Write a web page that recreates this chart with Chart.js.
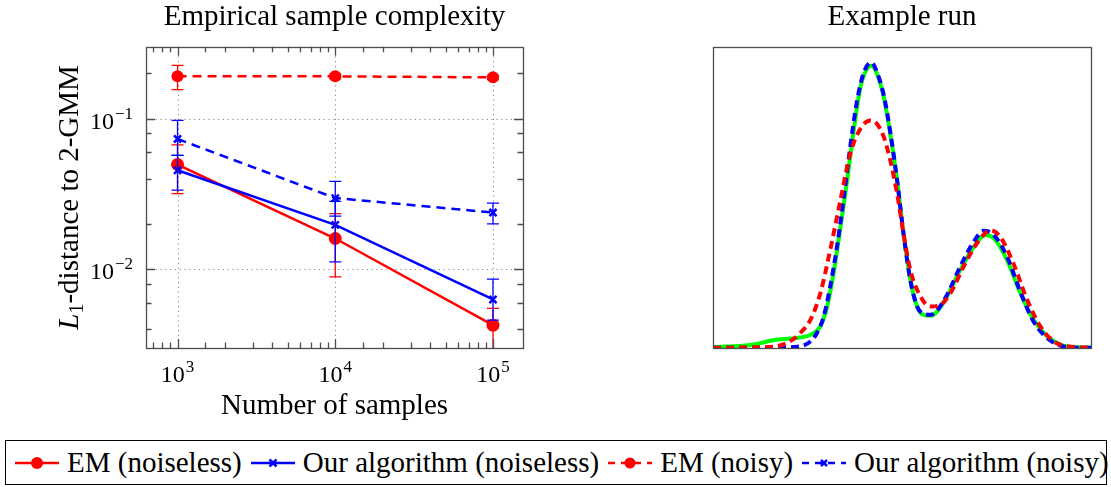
<!DOCTYPE html>
<html>
<head>
<meta charset="utf-8">
<script src="https://cdn.jsdelivr.net/npm/chart.js@4.4.0/dist/chart.umd.min.js"></script>
<style>
  body { margin: 0; background: #fff; width: 1111px; height: 487px; overflow: hidden; position: relative; font-family: "Liberation Serif", serif; }
  #left { position: absolute; left: 0; top: 0; }
  #right { position: absolute; left: 560px; top: 0; }
  #legend { position: absolute; left: 5px; top: 440px; width: 1102px; height: 45px; box-sizing: border-box;
            border: 1.5px solid #000; display: flex; align-items: center; font-size: 29px; line-height: 1; color: #000; white-space: nowrap; }
  #legend svg { margin-left: 8px; margin-right: 7px; flex: none; }
  #legend span { flex: none; }
</style>
</head>
<body>
<canvas id="left" width="560" height="430"></canvas>
<canvas id="right" width="551" height="430"></canvas>
<div id="legend">
  <svg width="46" height="20"><line x1="1" y1="10" x2="45" y2="10" stroke="#f00" stroke-width="2.5"/><circle cx="23" cy="10" r="6" fill="#f00"/></svg><span>EM (noiseless)</span>
  <svg width="46" height="20"><line x1="1" y1="10" x2="45" y2="10" stroke="#00f" stroke-width="2.5"/><path d="M19.5 6.5 L26.5 13.5 M26.5 6.5 L19.5 13.5" stroke="#00f" stroke-width="2.5"/></svg><span>Our algorithm (noiseless)</span>
  <svg width="46" height="20"><line x1="1" y1="10" x2="45" y2="10" stroke="#f00" stroke-width="2.5" stroke-dasharray="7 6"/><circle cx="23" cy="10" r="5.5" fill="#f00"/></svg><span>EM (noisy)</span>
  <svg width="46" height="20"><line x1="1" y1="10" x2="45" y2="10" stroke="#00f" stroke-width="2.5" stroke-dasharray="7 6"/><path d="M20 7 L26 13 M26 7 L20 13" stroke="#00f" stroke-width="2.5"/></svg><span>Our algorithm (noisy)</span>
</div>
<script>
// ---- left panel: L1 distance vs number of samples ----
const samples = [1e3, 1e4, 1e5];

const emNoiseless   = [0.0496, 0.0160, 0.00425];
const emNoiselessLo = [0.0318, 0.0089, 0.0025];
const emNoiselessHi = [0.067, 0.0234, 0.0055];

const oursNoiseless   = [0.0454, 0.0197, 0.0063];
const oursNoiselessLo = [0.0335, 0.0112, 0.0046];
const oursNoiselessHi = [0.057, 0.0282, 0.0086];

const emNoisy   = [0.191, 0.191, 0.188];
const emNoisyLo = [0.156, 0.184, 0.182];
const emNoisyHi = [0.226, 0.198, 0.194];

const oursNoisy   = [0.0733, 0.0297, 0.0238];
const oursNoisyLo = [0.057, 0.0225, 0.0200];
const oursNoisyHi = [0.0975, 0.0383, 0.0275];

const xMajor = [1e3, 1e4, 1e5];
const xExp = ['3', '4', '5'];
const yMajor = [0.1, 0.01];
const yExp = ['\u22121', '\u22122'];

// ---- right panel: example run densities ----
const trueX = [0, 9.9, 16.9, 23.1, 25.8, 28.4, 30.2, 31.9, 33.7, 35.5, 37.2, 39.0, 40.7, 41.9, 43.4, 45.2, 46.9, 48.7, 50.4, 52.2, 54.0, 55.7, 57.5, 59.3, 61.9, 65.4, 69.0, 72.1, 74.3, 77.8, 81.3, 84.8, 88.4, 91.9, 95.4, 100];
const trueY = [0.003, 0.01, 0.028, 0.035, 0.044, 0.072, 0.138, 0.248, 0.40, 0.557, 0.72, 0.865, 0.926, 0.937, 0.91, 0.832, 0.711, 0.557, 0.38, 0.226, 0.138, 0.11, 0.107, 0.121, 0.171, 0.259, 0.336, 0.375, 0.364, 0.292, 0.182, 0.094, 0.039, 0.011, 0.003, 0.001];

const oursRunX = [0, 14.3, 23.1, 25.8, 27.5, 29.3, 31.0, 32.8, 34.6, 36.3, 38.1, 39.9, 41.9, 43.4, 45.2, 46.9, 48.7, 50.4, 52.2, 54.0, 55.7, 57.5, 59.3, 61.9, 65.4, 69.0, 71.6, 74.3, 77.8, 81.3, 84.8, 88.4, 91.9, 95.4, 100];
const oursRunY = [0.001, 0.001, 0.006, 0.022, 0.05, 0.105, 0.204, 0.336, 0.50, 0.667, 0.82, 0.915, 0.948, 0.915, 0.838, 0.717, 0.557, 0.38, 0.226, 0.138, 0.114, 0.11, 0.125, 0.176, 0.27, 0.353, 0.389, 0.375, 0.303, 0.187, 0.088, 0.033, 0.008, 0.001, 0.001];

const emRunX = [0, 14.3, 19.6, 23.1, 25.8, 28.4, 31.0, 33.7, 36.3, 39.0, 41.6, 43.4, 45.2, 46.9, 48.7, 50.4, 52.2, 54.9, 57.5, 60.1, 62.8, 66.3, 69.8, 73.4, 76.0, 79.5, 83.1, 86.6, 90.1, 93.7, 100];
const emRunY = [0.001, 0.003, 0.017, 0.05, 0.094, 0.182, 0.325, 0.49, 0.645, 0.728, 0.755, 0.744, 0.70, 0.623, 0.513, 0.38, 0.259, 0.171, 0.138, 0.143, 0.182, 0.27, 0.347, 0.391, 0.369, 0.28, 0.16, 0.072, 0.022, 0.006, 0.001];

const serif = '"Liberation Serif", "Times New Roman", serif';
const pts = (xs, ys) => xs.map((x, i) => ({ x: x, y: ys[i] }));

function isDecade(v) {
  const l = Math.log10(v);
  return Math.abs(l - Math.round(l)) < 1e-6;
}

// frame, inward ticks, dotted grid, error bars and tick labels (pgfplots look)
const framePlugin = {
  id: 'frame',
  beforeDatasetsDraw(chart, args, opts) {
    if (!opts.grid) return;
    const { ctx, chartArea: a, scales: { x, y } } = chart;
    ctx.save();
    ctx.strokeStyle = '#8c8c8c';
    ctx.lineWidth = 1;
    ctx.setLineDash([1.2, 3.6]);
    ctx.beginPath();
    xMajor.forEach(v => {
      const px = Math.round(x.getPixelForValue(v)) + 0.5;
      ctx.moveTo(px, a.top); ctx.lineTo(px, a.bottom);
    });
    yMajor.forEach(v => {
      const py = Math.round(y.getPixelForValue(v)) + 0.5;
      ctx.moveTo(a.left, py); ctx.lineTo(a.right, py);
    });
    ctx.stroke();
    ctx.restore();
  },
  afterDatasetsDraw(chart, args, opts) {
    if (!opts.errors) return;
    const { ctx, chartArea: a, scales: { x, y } } = chart;
    ctx.save();
    ctx.beginPath();
    ctx.rect(a.left, a.top, a.right - a.left, a.bottom - a.top);
    ctx.clip();
    chart.data.datasets.forEach(ds => {
      if (!ds.errLo) return;
      ctx.strokeStyle = ds.borderColor;
      ctx.lineWidth = 1.3;
      ctx.setLineDash([]);
      samples.forEach((s, j) => {
        const px = x.getPixelForValue(s);
        const lo = y.getPixelForValue(ds.errLo[j]);
        const hi = y.getPixelForValue(ds.errHi[j]);
        ctx.beginPath();
        ctx.moveTo(px, lo); ctx.lineTo(px, hi);
        ctx.moveTo(px - 6, lo); ctx.lineTo(px + 6, lo);
        ctx.moveTo(px - 6, hi); ctx.lineTo(px + 6, hi);
        ctx.stroke();
      });
    });
    ctx.restore();
  },
  afterDraw(chart, args, opts) {
    const { ctx, chartArea: a, scales: { x, y } } = chart;
    ctx.save();
    ctx.strokeStyle = '#4d4d4d';
    ctx.lineWidth = 1.3;
    ctx.setLineDash([]);
    if (opts.ticks) {
      ctx.beginPath();
      x.ticks.forEach(t => {
        const px = Math.round(x.getPixelForValue(t.value)) + 0.5;
        if (px < a.left + 2 || px > a.right - 2) return;
        const len = isDecade(t.value) ? 9 : 5.5;
        ctx.moveTo(px, a.bottom); ctx.lineTo(px, a.bottom - len);
        ctx.moveTo(px, a.top); ctx.lineTo(px, a.top + len);
      });
      y.ticks.forEach(t => {
        const py = Math.round(y.getPixelForValue(t.value)) + 0.5;
        if (py < a.top + 2 || py > a.bottom - 2) return;
        const len = isDecade(t.value) ? 9 : 5.5;
        ctx.moveTo(a.left, py); ctx.lineTo(a.left + len, py);
        ctx.moveTo(a.right, py); ctx.lineTo(a.right - len, py);
      });
      ctx.stroke();

      // tick labels 10^k
      ctx.fillStyle = '#000';
      ctx.textBaseline = 'alphabetic';
      const base = '24px ' + serif, sup = '17px ' + serif;
      xMajor.forEach((v, i) => {
        ctx.font = base; const w1 = ctx.measureText('10').width;
        ctx.font = sup; const w2 = ctx.measureText(xExp[i]).width;
        const px = x.getPixelForValue(v);
        const x0 = px - (w1 + w2 + 1) / 2;
        ctx.textAlign = 'left';
        ctx.font = base; ctx.fillText('10', x0, a.bottom + 34);
        ctx.font = sup; ctx.fillText(xExp[i], x0 + w1 + 1, a.bottom + 24);
      });
      yMajor.forEach((v, i) => {
        ctx.font = base; const w1 = ctx.measureText('10').width;
        ctx.font = sup; const w2 = ctx.measureText(yExp[i]).width;
        const py = y.getPixelForValue(v);
        const x0 = a.left - 13 - (w1 + w2 + 1);
        ctx.textAlign = 'left';
        ctx.font = base; ctx.fillText('10', x0, py + 10);
        ctx.font = sup; ctx.fillText(yExp[i], x0 + w1 + 1, py);
      });

      // y axis title: L_1-distance to 2-GMM
      const cy = (a.top + a.bottom) / 2;
      ctx.translate(78, cy);
      ctx.rotate(-Math.PI / 2);
      const fL = 'italic 29px ' + serif, fSub = '20px ' + serif, fRest = '29px ' + serif;
      const rest = '-distance to 2-GMM';
      ctx.font = fL; const wL = ctx.measureText('L').width;
      ctx.font = fSub; const wS = ctx.measureText('1').width;
      ctx.font = fRest; const wR = ctx.measureText(rest).width;
      let tx = -(wL + wS + wR) / 2;
      ctx.textAlign = 'left';
      ctx.font = fL; ctx.fillText('L', tx, 0); tx += wL;
      ctx.font = fSub; ctx.fillText('1', tx, 5); tx += wS;
      ctx.font = fRest; ctx.fillText(rest, tx, 0);
      ctx.setTransform(1, 0, 0, 1, 0, 0);
    }
    ctx.strokeStyle = '#4d4d4d';
    ctx.lineWidth = 1.3;
    ctx.strokeRect(Math.round(a.left) + 0.5, Math.round(a.top) + 0.5, Math.round(a.right - a.left), Math.round(a.bottom - a.top));
    ctx.restore();
  }
};

const titleOpts = (text) => ({
  display: true, text: text, color: '#000',
  font: { family: serif, size: 29, weight: 'normal' },
  padding: { top: 0, bottom: 12 }
});

new Chart(document.getElementById('left'), {
  type: 'line',
  data: {
    datasets: [
      { label: 'EM (noiseless)', data: pts(samples, emNoiseless), errLo: emNoiselessLo, errHi: emNoiselessHi,
        borderColor: '#ff0000', backgroundColor: '#ff0000', borderWidth: 2.5, order: 1,
        pointStyle: 'circle', pointRadius: 6.5, pointBorderWidth: 0 },
      { label: 'Our algorithm (noiseless)', data: pts(samples, oursNoiseless), errLo: oursNoiselessLo, errHi: oursNoiselessHi,
        borderColor: '#0000ff', backgroundColor: '#0000ff', borderWidth: 2.5, order: 0,
        pointStyle: 'crossRot', pointRadius: 5, pointBorderWidth: 2.5 },
      { label: 'EM (noisy)', data: pts(samples, emNoisy), errLo: emNoisyLo, errHi: emNoisyHi,
        borderColor: '#ff0000', backgroundColor: '#ff0000', borderWidth: 2.5, borderDash: [9, 6], order: 3,
        pointStyle: 'circle', pointRadius: 6, pointBorderWidth: 0 },
      { label: 'Our algorithm (noisy)', data: pts(samples, oursNoisy), errLo: oursNoisyLo, errHi: oursNoisyHi,
        borderColor: '#0000ff', backgroundColor: '#0000ff', borderWidth: 2.5, borderDash: [9, 6], order: 2,
        pointStyle: 'crossRot', pointRadius: 5, pointBorderWidth: 2.5 }
    ]
  },
  options: {
    responsive: false,
    animation: false,
    layout: { padding: { left: 146, right: 37, top: 0, bottom: 0 } },
    plugins: {
      legend: { display: false },
      tooltip: { enabled: false },
      title: titleOpts('Empirical sample complexity'),
      frame: { grid: true, ticks: true, errors: true }
    },
    scales: {
      x: {
        type: 'logarithmic', min: 631, max: 155000,
        grid: { display: false }, border: { display: false },
        ticks: { display: false },
        title: { display: true, text: 'Number of samples', color: '#000',
                 font: { family: serif, size: 29 }, padding: { top: 0, bottom: 6 } },
        afterFit: s => { s.height = 82; }
      },
      y: {
        type: 'logarithmic', min: 0.003, max: 0.30, display: false
      }
    }
  },
  plugins: [framePlugin]
});

new Chart(document.getElementById('right'), {
  type: 'line',
  data: {
    datasets: [
      { label: 'true', data: pts(trueX, trueY), borderColor: '#00ff00', borderWidth: 4, order: 2,
        pointRadius: 0, cubicInterpolationMode: 'monotone' },
      { label: 'ours', data: pts(oursRunX, oursRunY), borderColor: '#0000ff', borderWidth: 4, borderDash: [8, 5], order: 1,
        pointRadius: 0, cubicInterpolationMode: 'monotone' },
      { label: 'EM', data: pts(emRunX, emRunY), borderColor: '#ff0000', borderWidth: 4, borderDash: [8, 5], order: 0,
        pointRadius: 0, cubicInterpolationMode: 'monotone' }
    ]
  },
  options: {
    responsive: false,
    animation: false,
    layout: { padding: { left: 153, right: 20, top: 0, bottom: 82 } },
    plugins: {
      legend: { display: false },
      tooltip: { enabled: false },
      title: titleOpts('Example run'),
      frame: { grid: false, ticks: false, errors: false }
    },
    scales: {
      x: { type: 'linear', min: 0, max: 100, display: false },
      y: { type: 'linear', min: 0, max: 1, display: false }
    }
  },
  plugins: [framePlugin]
});
</script>
</body>
</html>
